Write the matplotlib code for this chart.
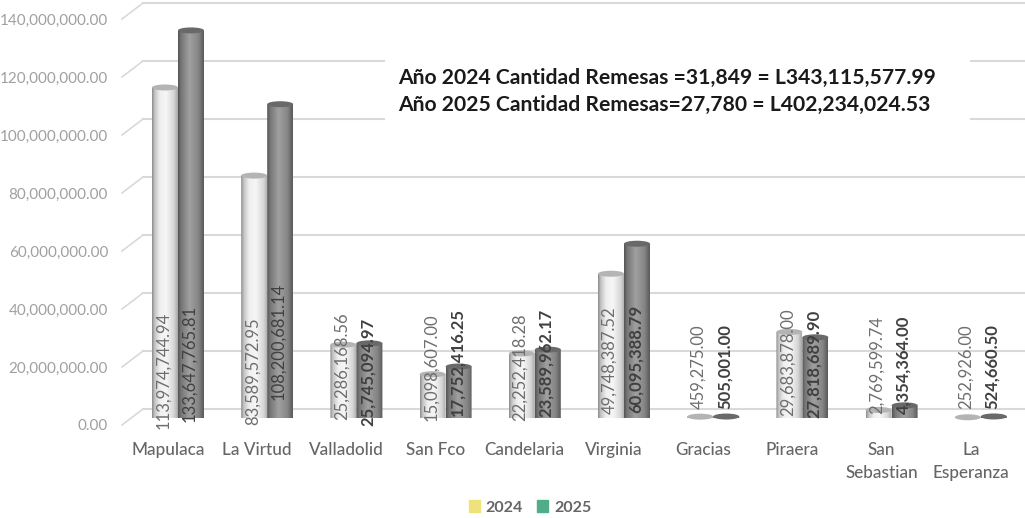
import matplotlib
matplotlib.use("Agg")
import matplotlib.pyplot as plt
import numpy as np
from matplotlib.colors import LinearSegmentedColormap
from matplotlib.patches import Ellipse, Patch, Polygon, Rectangle
from matplotlib.transforms import ScaledTranslation

categories = ["Mapulaca", "La Virtud", "Valladolid", "San Fco", "Candelaria", "Virginia",
              "Gracias", "Piraera", "San\nSebastian", "La\nEsperanza"]
values_2024 = [113974744.94, 83589572.95, 25286168.56, 15098607.00, 22252418.28,
               49748387.52, 459275.00, 29683878.00, 2769599.74, 252926.00]
values_2025 = [133647765.81, 108200681.14, 25745094.97, 17752416.25, 23589962.17,
               60095388.79, 505001.00, 27818689.90, 4354364.00, 524660.50]
y_ticks = [0, 20000000, 40000000, 60000000, 80000000, 100000000, 120000000, 140000000]
summary = ["Año 2024 Cantidad Remesas =31,849 = L343,115,577.99",
           "Año 2025 Cantidad Remesas=27,780 = L402,234,024.53"]

# where the rotated labels are centred, in pixels from the top of the image
label_y_2024 = [370, 371, 366, 367, 367, 360, 367, 362, 365, 367]
label_y_2025 = [363, 341, 372, 362, 363, 359, 367, 364, 365, 367]

W, H = 1025, 518
PX_PER_VALUE = 2.9e-6   # 58 px for each 20 million
PX_PER_CAT = 89.2
BASE_Y = 418
LEFT_X = 122
FIRST_X = 178
BAR_W = 26 / PX_PER_CAT
CAP_H = 6 / PX_PER_VALUE
BACK = 9 / PX_PER_VALUE
FRONT = -7 / PX_PER_VALUE
DEPTH = 21 / PX_PER_CAT

plt.rcParams["font.family"] = ["Lato", "DejaVu Sans"]

light = LinearSegmentedColormap.from_list("light", [(0, "#8c8c8c"), (0.1, "#c4c4c4"), (0.3, "#efefef"),
                                                    (0.55, "#f6f6f6"), (0.85, "#d6d6d6"), (1, "#a8a8a8")])
dark = LinearSegmentedColormap.from_list("dark", [(0, "#555555"), (0.12, "#777777"), (0.45, "#a0a0a0"),
                                                  (0.8, "#858585"), (1, "#5a5a5a")])
gradient = np.linspace(0, 1, 64).reshape(1, -1)


def draw_cylinder(ax, x, value, cmap, cap_color):
    theta = np.linspace(np.pi, 2 * np.pi, 30)
    arc_x = x + BAR_W / 2 * np.cos(theta)
    arc_y = CAP_H / 2 * np.sin(theta)
    outline = np.vstack([[x - BAR_W / 2, value], np.column_stack([arc_x, arc_y]), [x + BAR_W / 2, value]])
    clip = Polygon(outline, closed=True, transform=ax.transData, facecolor="none", edgecolor="none")
    ax.add_patch(clip)
    im = ax.imshow(gradient, cmap=cmap, aspect="auto", zorder=3,
                   extent=(x - BAR_W / 2, x + BAR_W / 2, -CAP_H / 2, value))
    im.set_clip_path(clip)
    ax.add_patch(Ellipse((x, value), BAR_W, CAP_H, facecolor=cap_color, edgecolor="none",
                         zorder=3.5, clip_on=False))


fig = plt.figure(figsize=(W / 100, H / 100), dpi=100)
ax = fig.add_axes([LEFT_X / W, (H - BASE_Y) / H, (W - LEFT_X) / W, BASE_Y / H])

xmin = (LEFT_X - FIRST_X) / PX_PER_CAT
xmax = (W - FIRST_X) / PX_PER_CAT

# back wall grid and the slanted floor lines
for tick in y_ticks:
    ax.plot([xmin + DEPTH, xmax], [tick + BACK, tick + BACK], color="#d9d9d9", lw=1.5, zorder=1, clip_on=False)
    ax.plot([xmin, xmin + DEPTH], [tick + FRONT, tick + BACK], color="#d9d9d9", lw=1.2, zorder=1, clip_on=False)

x = np.arange(len(categories))
for i in x:
    draw_cylinder(ax, i - BAR_W / 2, values_2024[i], light, "#b4b4b4")
for i in x:
    draw_cylinder(ax, i + BAR_W / 2, values_2025[i], dark, "#696969")

for i in x:
    ax.text(i - BAR_W / 2 - 1.5 / PX_PER_CAT, (BASE_Y - label_y_2024[i]) / PX_PER_VALUE,
            f"{values_2024[i]:,.2f}", rotation=90, ha="center", va="center",
            fontsize=12, color="#6e6e6e", zorder=5, clip_on=False)
    ax.text(i + BAR_W / 2 - 1.5 / PX_PER_CAT, (BASE_Y - label_y_2025[i]) / PX_PER_VALUE,
            f"{values_2025[i]:,.2f}", rotation=90, ha="center", va="center",
            fontsize=12, color="#404040", fontweight="bold" if values_2025[i] < 1e8 else "normal",
            zorder=5, clip_on=False)

ax.set_xlim(xmin, xmax)
ax.set_ylim(0, BASE_Y / PX_PER_VALUE)
ax.set_xticks(x)
ax.set_xticklabels(categories, fontsize=12.3, color="#666666", fontweight="medium", linespacing=1.55)
ax.set_yticks(y_ticks)
ax.set_yticklabels([f"{t:,.2f}" for t in y_ticks], fontsize=11, color="#a0a0a0")
ax.tick_params(axis="x", length=0, pad=17)
ax.tick_params(axis="y", length=0, pad=10)
shift_y = ScaledTranslation(0, FRONT * PX_PER_VALUE / 100, fig.dpi_scale_trans)
for label in ax.get_yticklabels():
    label.set_transform(label.get_transform() + shift_y)
shift_x = ScaledTranslation(-10 / 100, 0, fig.dpi_scale_trans)
for label in ax.get_xticklabels():
    label.set_transform(label.get_transform() + shift_x)
for spine in ax.spines.values():
    spine.set_visible(False)

# white box behind the summary
fig.add_artist(Rectangle((385 / W, 1 - 125 / H), 585 / W, 68 / H, transform=fig.transFigure,
                         facecolor="white", edgecolor="none", zorder=6))
for line, py in zip(summary, [78, 105]):
    fig.text(398 / W, 1 - py / H, line, fontsize=15.2, fontweight="bold", color="#1a1a1a",
             ha="left", va="center", zorder=7)

handles = [Patch(color="#f0e27a", label="2024"), Patch(color="#4fae8a", label="2025")]
leg = fig.legend(handles=handles, loc="center", bbox_to_anchor=(530 / W, 1 - 507.5 / H), ncol=2, frameon=False,
                 fontsize=11.5, handlelength=0.7, handleheight=0.7, handletextpad=0.35, columnspacing=0.9)
for t in leg.get_texts():
    t.set_color("#666666")
    t.set_fontweight("bold")

fig.savefig("out.png", dpi=100)
